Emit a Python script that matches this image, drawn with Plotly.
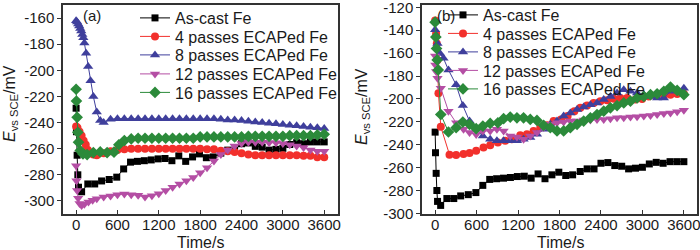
import plotly.graph_objects as go

# ---------------- data ----------------
names = ["As-cast Fe", "4 passes ECAPed Fe", "8 passes ECAPed Fe",
         "12 passes ECAPed Fe", "16 passes ECAPed Fe"]

# As-cast Fe (same in both panels)
t_cast = [0, 5, 15, 25, 35, 80, 170, 270, 370, 480, 590, 690, 790, 890, 990,
          1090, 1190, 1290, 1390, 1490, 1590, 1690, 1790, 1890, 1990,
          2100, 2200, 2300, 2400, 2500, 2600, 2700, 2800, 2900, 3000,
          3100, 3200, 3300, 3400, 3500, 3600]
e_cast = [-229, -247, -265, -280, -289.5, -293, -287, -287, -284.7, -283.6,
          -281.8, -275.5, -270.3, -269.7, -269.2, -268.6, -267.8, -267.5,
          -269.2, -265.5, -269.7, -266.3, -264, -266.9, -266.3, -263.4,
          -261.1, -261.1, -256.2, -255.6, -258.2, -258.8, -261.1, -260.5,
          -259.7, -256.8, -255.4, -256.2, -254.8, -254.8, -254.8]

# ---- panel (a) ----
t_a4 = [0, 20, 50, 80, 110, 140, 170, 200, 250, 300, 400, 500, 600, 700, 800,
        900, 1000, 1100, 1200, 1300, 1400, 1500, 1600, 1700, 1800, 1900, 2000,
        2100, 2200, 2300, 2400, 2500, 2600, 2700, 2800, 2900, 3000, 3100,
        3200, 3300, 3400, 3500, 3600]
e_a4 = [-243, -244, -247, -250, -254, -257, -261, -263, -264.5, -265, -263.5,
        -262, -261, -260.5, -260, -260, -260, -260, -260, -260, -260, -260,
        -260, -260, -260, -260.5, -260.5, -261.5, -262, -262.5, -263.5,
        -264.5, -265, -265, -265, -265, -265, -265, -265, -265.5, -265.5,
        -266.5, -266.5]

t_a8 = [0, 15, 30, 45, 60, 75, 90, 105, 120, 145, 175, 210, 250, 300, 350,
        400, 500, 600, 700, 800, 900, 1000, 1100, 1200, 1300, 1400, 1500,
        1600, 1700, 1800, 1900, 2000, 2100, 2200, 2300, 2400, 2500, 2600,
        2700, 2800, 2900, 3000, 3100, 3200, 3300, 3400, 3500, 3600]
e_a8 = [-162, -163, -164.5, -166, -168, -170, -172.5, -175, -179, -187, -197,
        -208, -220, -232, -238.5, -240, -237.5, -237, -237, -237, -237, -237,
        -237, -237, -237, -237, -237, -237, -237, -237, -237, -237, -237.5,
        -238, -238, -238.5, -239, -239.5, -240, -240.5, -241, -241.5, -242,
        -242.5, -243, -243.5, -244, -244.5]

t_a12 = [0, 5, 15, 30, 50, 80, 120, 180, 240, 300, 400, 500, 600, 700, 800,
         900, 1000, 1100, 1200, 1300, 1400, 1500, 1600, 1700, 1800, 1900,
         2000, 2100, 2200, 2300, 2400, 2500, 2600, 2700, 2800, 2900, 3000,
         3100, 3200, 3300, 3400, 3500, 3600]
e_a12 = [-273, -284.5, -292, -298, -302, -303.5, -302.5, -300.8, -299.5,
         -298.3, -297, -296.2, -295.2, -294.6, -295.2, -295.7, -297, -296,
         -294.5, -292, -289.5, -287, -284.5, -282, -278.5, -274.5, -269.5,
         -264.5, -261, -258, -256, -255, -255, -255, -255.5, -255.5, -256,
         -257, -258, -259, -261, -262, -262]

t_a16 = [0, 5, 15, 25, 35, 60, 100, 160, 250, 350, 450, 550, 620, 700, 800,
         900, 1000, 1100, 1200, 1300, 1400, 1500, 1600, 1700, 1800, 1900,
         2000, 2100, 2200, 2300, 2400, 2500, 2600, 2700, 2800, 2900, 3000,
         3100, 3200, 3300, 3400, 3500, 3600]
e_a16 = [-214.5, -223.5, -236, -247.5, -255, -261.4, -264, -264.5, -263,
         -262.5, -263, -262.7, -257, -253.8, -252.5, -252, -252, -252, -252,
         -252, -252, -252, -252, -252, -251, -251, -251, -251, -251, -251,
         -251, -250.5, -250.5, -250.5, -250.5, -250.5, -250.5, -250, -250,
         -250, -250, -249.5, -249]

# ---- panel (b) ----
t_b4 = [0, 14, 24, 34, 48, 82, 208, 304, 411, 498, 594, 700, 797, 908, 1015,
        1111, 1232, 1329, 1425, 1522, 1619, 1715, 1822, 1918, 2015, 2102,
        2199, 2295, 2392, 2488, 2585, 2682, 2778, 2899, 2996, 3092, 3204,
        3310, 3406, 3503, 3600]
e_b4 = [-131.5, -143, -151.7, -166, -195, -224.3, -248.7, -249, -248, -247.3,
        -245.3, -242.4, -240.4, -238, -236.6, -235.2, -231.7, -230.9, -228,
        -225, -223, -219.4, -218, -215, -210.7, -207.8, -205.8, -203.5, -202,
        -201.2, -199.8, -199.2, -199.2, -200.6, -200, -197.8, -197.2, -196.6,
        -196.3, -195.7, -195.5]

t_b8 = [0, 14, 34, 72, 121, 193, 304, 401, 498, 594, 691, 797, 894, 991, 1087,
        1184, 1280, 1377, 1474, 1570, 1667, 1764, 1860, 1957, 2054, 2150,
        2247, 2343, 2440, 2537, 2633, 2730, 2827, 2923, 3020, 3117, 3213,
        3310, 3406, 3503, 3600]
e_b8 = [-139.6, -144.5, -151.7, -160.3, -164.6, -174.7, -187.7, -205.8,
        -219.4, -226.6, -232.3, -235.2, -236.6, -236.6, -236.6, -236.6,
        -235.2, -233.8, -230.9, -226.6, -222.2, -219.4, -215, -212.2, -209.3,
        -207, -205, -203.5, -200.6, -197.8, -194.9, -192, -193.4, -194.9,
        -196.3, -197.8, -199.2, -199.2, -193.4, -192.6, -190.6]

t_b12 = [0, 3, 14, 34, 82, 193, 304, 411, 498, 594, 691, 797, 894, 991, 1087,
         1184, 1280, 1377, 1474, 1570, 1667, 1764, 1860, 1957, 2054, 2150,
         2247, 2343, 2440, 2537, 2633, 2730, 2827, 2923, 3020, 3117, 3213,
         3310, 3406, 3503, 3600]
e_b12 = [-162.6, -170.4, -176, -182, -190.6, -210.7, -220.8, -226.6, -229.4,
         -231, -228, -228, -226.6, -228, -232.3, -233.2, -235.2, -232.3,
         -229.4, -225, -222.2, -220.8, -220.2, -219.4, -219.4, -218.5, -218.5,
         -218, -218, -217.3, -216.5, -216.5, -215.9, -215.6, -215, -214.5,
         -213.6, -212.7, -212.2, -211.3, -209.9]

t_b16 = [0, 10, 20, 30, 45, 82, 193, 304, 401, 498, 594, 691, 797, 908, 991,
         1087, 1184, 1280, 1377, 1474, 1570, 1667, 1764, 1860, 1957, 2054,
         2150, 2247, 2343, 2440, 2537, 2633, 2730, 2827, 2923, 3020, 3117,
         3213, 3310, 3406, 3503, 3600]
e_b16 = [-133, -146, -156, -166, -174.7, -213.6, -228.9, -225.1, -220.2,
         -222.2, -226, -223.7, -221.4, -220.8, -217.3, -215.9, -216.5, -216.5,
         -217.9, -218.8, -223.1, -225.1, -228, -228, -225.1, -222.2, -219.4,
         -216.5, -213.6, -210.7, -207.8, -205.8, -203.5, -202, -199.2, -197.8,
         -196.3, -195.5, -193.4, -189.7, -192.6, -196.3]

x_ticks = [0, 600, 1200, 1800, 2400, 3000, 3600]
x_ticktext = ["0", "600", "1200", "1800", "2400", "3000", "3600"]
ya_ticks = [-300, -280, -260, -240, -220, -200, -180, -160]
ya_ticktext = ["-300", "-280", "-260", "-240", "-220", "-200", "-180", "-160"]
yb_ticks = [-300, -280, -260, -240, -220, -200, -180, -160, -140, -120]
yb_ticktext = ["-300", "-280", "-260", "-240", "-220", "-200", "-180", "-160",
               "-140", "-120"]

# ---------------- style ----------------
colors = ["#000000", "#f2302c", "#3f3f9c", "#b44ea4", "#2b8a3a"]
symbols = ["square", "circle", "triangle-up", "triangle-down", "diamond"]
msizes = [7, 8, 9, 9, 9]
FONT = "Arial, Liberation Sans, sans-serif"
TXT = "#1a1a1a"
W, H = 700, 250

def fx(p):
    return p / W

def fy(p):
    return 1 - p / H

fig = go.Figure()
panel_a = [(t_cast, e_cast), (t_a4, e_a4), (t_a8, e_a8), (t_a12, e_a12), (t_a16, e_a16)]
panel_b = [(t_cast, e_cast), (t_b4, e_b4), (t_b8, e_b8), (t_b12, e_b12), (t_b16, e_b16)]

leg_keys = ["legend"] + ["legend%d" % k for k in range(2, 11)]
leg_a_y = [18, 36.5, 55, 74, 92.5]
leg_b_y = [15, 33.5, 52, 70.5, 89]
legend_layout = {}

for i, (t, e) in enumerate(panel_a):
    key = leg_keys[i]
    fig.add_trace(go.Scatter(
        x=t, y=e, name=names[i], mode="lines+markers", xaxis="x", yaxis="y",
        line=dict(color=colors[i], width=1),
        marker=dict(symbol=symbols[i], size=msizes[i], color=colors[i]),
        legend=key))
    legend_layout[key] = dict(x=fx(135), y=fy(leg_a_y[i]), xanchor="left", yanchor="middle",
                              bgcolor="rgba(0,0,0,0)", borderwidth=0,
                              font=dict(family=FONT, size=16, color=TXT), itemwidth=30)
for i, (t, e) in enumerate(panel_b):
    key = leg_keys[5 + i]
    fig.add_trace(go.Scatter(
        x=t, y=e, name=names[i], mode="lines+markers", xaxis="x2", yaxis="y2",
        line=dict(color=colors[i], width=1),
        marker=dict(symbol=symbols[i], size=msizes[i], color=colors[i]),
        legend=key))
    legend_layout[key] = dict(x=fx(443), y=fy(leg_b_y[i]), xanchor="left", yanchor="middle",
                              bgcolor="rgba(0,0,0,0)", borderwidth=0,
                              font=dict(family=FONT, size=16, color=TXT), itemwidth=30)

axis_common = dict(showline=True, linecolor="#333333", linewidth=1.5, mirror=True,
                   showgrid=False, zeroline=False, ticklen=4, tickwidth=1.2,
                   tickcolor="#333333", tickfont=dict(family=FONT, size=15, color=TXT),
                   ticklabeloverflow="allow")

fig.update_layout(
    width=W, height=H,
    margin=dict(l=0, r=0, t=0, b=0, autoexpand=False),
    plot_bgcolor="white", paper_bgcolor="white",
    xaxis=dict(domain=[fx(63), fx(338)], range=[-190, 3800], anchor="y",
               tickvals=x_ticks, ticktext=x_ticktext, ticks="inside",
               ticklabelstandoff=-4, **axis_common),
    yaxis=dict(domain=[fy(214), fy(5)], range=[-310, -150], anchor="x",
               tickvals=ya_ticks, ticktext=ya_ticktext, ticks="outside", **axis_common),
    xaxis2=dict(domain=[fx(422), fx(697)], range=[-190, 3790], anchor="y2",
                tickvals=x_ticks, ticktext=x_ticktext, ticks="inside",
                ticklabelstandoff=-4, **axis_common),
    yaxis2=dict(domain=[fy(214), fy(5)], range=[-300.5, -118], anchor="x2",
                tickvals=yb_ticks, ticktext=yb_ticktext, ticks="outside", **axis_common),
    showlegend=True,
    **legend_layout,
)

ann_font = dict(family=FONT, size=15, color=TXT)
title_font = dict(family=FONT, size=16, color=TXT)
center = dict(xref="paper", yref="paper", showarrow=False, xanchor="center", yanchor="middle")
annotations = [
    dict(text="(a)", x=fx(92), y=fy(15), font=ann_font, **center),
    dict(text="(b)", x=fx(446), y=fy(15), font=ann_font, **center),
    dict(text="Time/s", x=fx(200), y=fy(242), font=title_font, **center),
    dict(text="Time/s", x=fx(560), y=fy(242), font=title_font, **center),
    dict(text="<i>E</i><sub>vs SCE</sub>/mV", x=fx(11), y=fy(104), textangle=-90,
         font=title_font, **center),
    dict(text="<i>E</i><sub>vs SCE</sub>/mV", x=fx(363), y=fy(107), textangle=-90,
         font=title_font, **center),
]
fig.update_layout(annotations=annotations)

fig.write_html("out.html", config={"displayModeBar": False},
               post_script="document.body.style.margin='0';")
